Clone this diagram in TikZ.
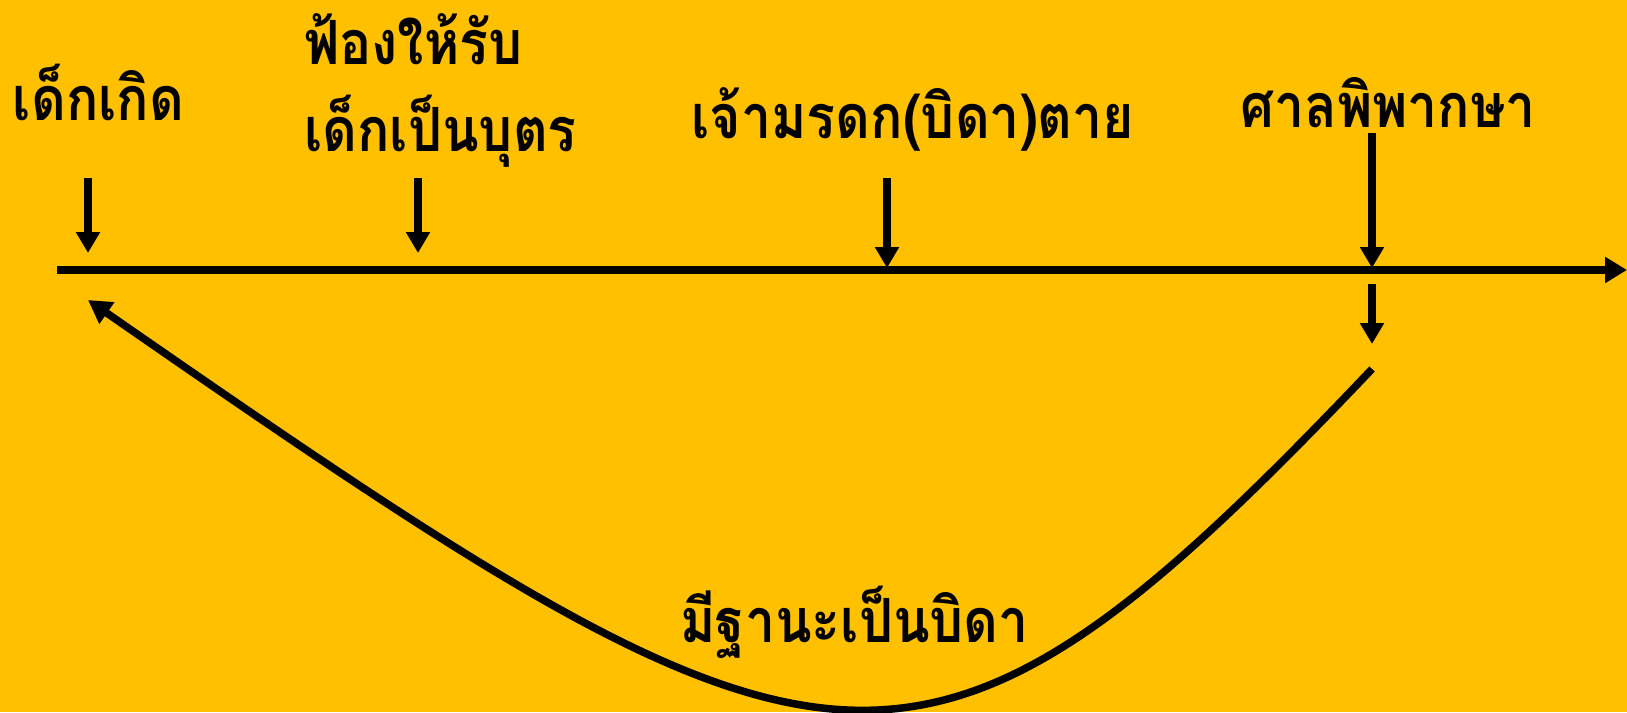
\documentclass[tikz,border=0pt]{standalone}
\usepackage{fontspec}
\newfontfamily\thaifont[Script=Thai, FakeStretch=0.88]{Loma}
\usetikzlibrary{arrows.meta}
\definecolor{bg}{RGB}{255,192,0}
\tikzset{
  lbl/.style={font=\thaifont\bfseries\fontsize{61}{84}\selectfont, inner sep=0pt, text=black},
  tick/.style={line width=7.5pt, -{Triangle[length=21pt,width=23pt]}},
  axis/.style={line width=8pt, -{Triangle[length=22pt,width=25pt]}},
  curve/.style={line width=7.5pt, -{Triangle[length=23pt,width=25pt]}}
}
\begin{document}
\begin{tikzpicture}[x=1pt,y=-1pt]
\fill[bg] (0,0) rectangle (1627,712);
\useasboundingbox (0,0) rectangle (1627,712);
% labels
\node[lbl, anchor=base] (t1) at (98.6,120) {เด็กเกิด};
\node[lbl, anchor=base west] (t2a) at (304,64) {ฟ้องให้รับ};
\node[lbl, anchor=base west] (t2b) at (304,151) {เด็กเป็นบุตร};
\node[lbl, anchor=base] (t3) at (913,138) {เจ้ามรดก(บิดา)ตาย};
\node[lbl, anchor=base] (t4) at (1388,127) {ศาลพิพากษา};
\node[lbl, anchor=base] (t5) at (854.5,642) {มีฐานะเป็นบิดา};
% axis
\coordinate (a0) at (57,270);
\coordinate (a1) at (1627,270);
\draw[axis] (a0) -- (a1);
% ticks
\coordinate (k1s) at (88,178); \coordinate (k1e) at (88,253);
\coordinate (k2s) at (418,178); \coordinate (k2e) at (418,253);
\coordinate (k3s) at (887,178); \coordinate (k3e) at (887,268);
\coordinate (k4s) at (1372,133); \coordinate (k4e) at (1372,268);
\coordinate (k5s) at (1372,284); \coordinate (k5e) at (1372,344);
\draw[tick] (k1s) -- (k1e);
\draw[tick] (k2s) -- (k2e);
\draw[tick] (k3s) -- (k3e);
\draw[tick] (k4s) -- (k4e);
\draw[tick] (k5s) -- (k5e);
% curve
\coordinate (c0) at (1372,369);
\coordinate (c1) at (88,300);
\draw[curve] (c0) .. controls (915,850) and (830,815) .. (c1);
\end{tikzpicture}
\end{document}
